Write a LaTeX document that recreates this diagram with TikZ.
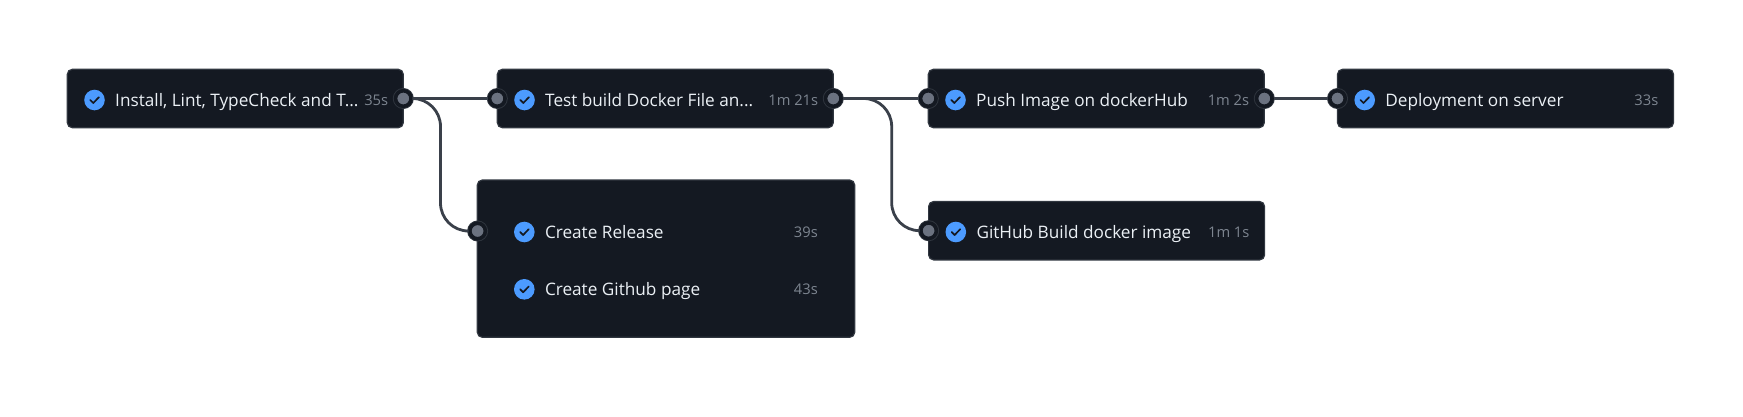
\documentclass[tikz,border=0pt]{standalone}
\usepackage{fontspec}
\setmainfont{Open Sans}
\usepackage{xcolor}
\usetikzlibrary{positioning}
\definecolor{panel}{HTML}{141922}
\definecolor{edge}{HTML}{30363F}
\definecolor{wirec}{HTML}{3A404A}
\definecolor{tick}{HTML}{4C9BFF}
\definecolor{portc}{HTML}{6B7280}
\definecolor{title}{HTML}{EBF0F5}
\definecolor{dur}{HTML}{7D8590}
\tikzset{
  job/.style={draw=edge,line width=1.2pt,fill=panel,rounded corners=5pt,outer sep=0pt,
    inner sep=0pt,minimum width=336pt,minimum height=58.4pt},
  okicon/.style={circle,fill=tick,inner sep=0pt,minimum size=20.6pt,path picture={
    \draw[panel,line width=1.7pt,line cap=round,line join=round]
      ([shift={(-4.2pt,0pt)}]path picture bounding box.center) -- ++(3pt,-3pt) -- ++(5.6pt,5.8pt);}},
  jobname/.style={anchor=west,text=title,inner sep=0pt,text height=15pt,text depth=3pt,
    font=\fontsize{17.2pt}{20pt}\selectfont},
  jobtime/.style={anchor=east,text=dur,inner sep=0pt,text height=13pt,text depth=3pt,
    font=\fontsize{14.7pt}{18pt}\selectfont},
  port/.style={circle,fill=portc,draw=panel,line width=3.6pt,inner sep=0pt,minimum size=15.5pt,outer sep=2pt,
    preaction={draw=edge,line width=5.4pt}},
  wire/.style={draw=wirec,line width=2.8pt}
}
\begin{document}
\begin{tikzpicture}[x=1pt,y=1pt]
 \useasboundingbox (0,0) rectangle (1743,-416);
 % top row
 \node[job,anchor=west] (install) at (67.3,-98.5) {};
 \node[job,right=94pt of install] (testbuild) {};
 \node[job,right=95pt of testbuild] (push) {};
 \node[job,right=73.2pt of push] (deploy) {};
 % lower row
 \node[job,minimum width=377.4pt,minimum height=157.3pt,anchor=north west] (pages) at (477.3,-180) {};
 \node[job,anchor=north west] (ghbuild) at (928.6,-201.5) {};
 % rows of text
 \node[okicon,right=16.7pt of install.west,yshift=-1.5pt] (i1) {};
 \node[jobname,right=10pt of i1] (n1) {Install, Lint, TypeCheck and T...};
 \node[jobtime,left=15pt of install.east,yshift=-1.5pt] (t1) {35s};
 \node[okicon,right=16.7pt of testbuild.west,yshift=-1.5pt] (i2) {};
 \node[jobname,right=10pt of i2] (n2) {Test build Docker File an...};
 \node[jobtime,left=15pt of testbuild.east,yshift=-1.5pt] (t2) {1m 21s};
 \node[okicon,right=16.7pt of push.west,yshift=-1.5pt] (i3) {};
 \node[jobname,right=10pt of i3] (n3) {Push Image on dockerHub};
 \node[jobtime,left=15pt of push.east,yshift=-1.5pt] (t3) {1m 2s};
 \node[okicon,right=16.7pt of deploy.west,yshift=-1.5pt] (i4) {};
 \node[jobname,right=10pt of i4] (n4) {Deployment on server};
 \node[jobtime,left=15pt of deploy.east,yshift=-1.5pt] (t4) {33s};
 \node[okicon,right=16.7pt of ghbuild.west,yshift=-1.3pt] (i5) {};
 \node[jobname,right=10pt of i5] (n5) {GitHub Build docker image};
 \node[jobtime,left=15pt of ghbuild.east,yshift=-1.3pt] (t5) {1m 1s};
 \node[okicon] (i6) at (524.3,-232) {};
 \node[jobname,right=10pt of i6] (n6) {Create Release};
 \node[jobtime,anchor=east] (t6) at (818,-232) {39s};
 \node[okicon] (i7) at (524.3,-289.3) {};
 \node[jobname,right=10pt of i7] (n7) {Create Github page};
 \node[jobtime,anchor=east] (t7) at (818,-289.3) {43s};
 % ports
 \node[port] (p1) at (install.east) {};
 \node[port] (p2) at (testbuild.west) {};
 \node[port] (p3) at (testbuild.east) {};
 \node[port] (p4) at (push.west) {};
 \node[port] (p5) at (push.east) {};
 \node[port] (p6) at (deploy.west) {};
 \node[port] (p7) at (477.6,-231) {};
 \node[port] (p8) at (ghbuild.west) {};
 \coordinate (b1) at (440.5,-165);
 \coordinate (b2) at (891.7,-165);
 \draw[wire] (p1.east) -- (p2.west);
 \draw[wire] (p3.east) -- (p4.west);
 \draw[wire] (p5.east) -- (p6.west);
 \draw[wire,rounded corners=28pt] (p1.east) -| (b1) |- (p7.west);
 \draw[wire,rounded corners=28pt] (p3.east) -| (b2) |- (p8.west);
\end{tikzpicture}
\end{document}
